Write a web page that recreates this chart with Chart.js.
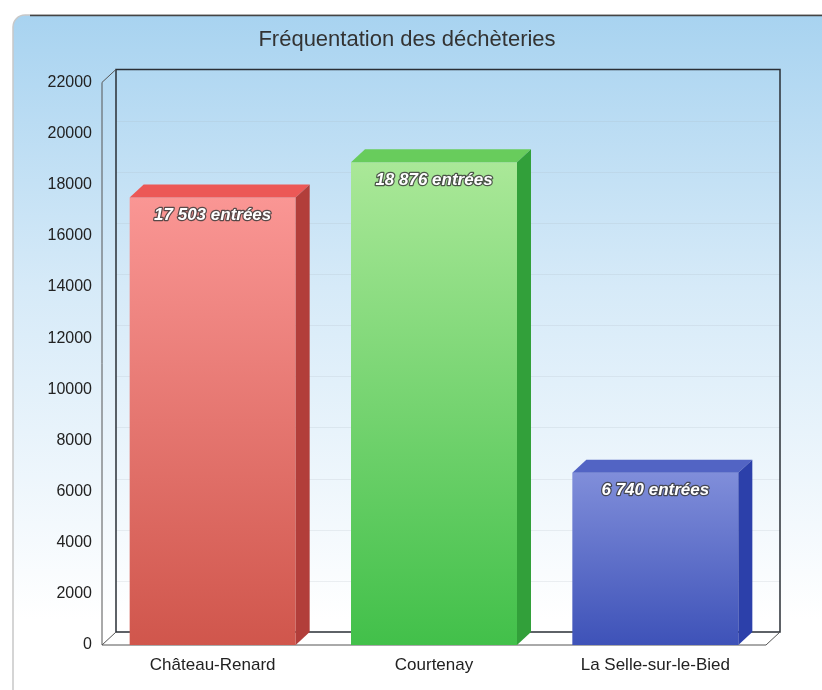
<!DOCTYPE html>
<html lang="fr">
<head>
  <meta charset="UTF-8">
  <title>Fréquentation des déchèteries</title>
  <script src="https://cdn.jsdelivr.net/npm/chart.js"></script>
  <style>
    html, body { margin: 0; padding: 0; background: #fff; }
    #wrap { width: 822px; height: 690px; }
  </style>
</head>
<body>
  <div id="wrap"><canvas id="chart" width="822" height="690"></canvas></div>
  <script>
    const sites = ['Château-Renard', 'Courtenay', 'La Selle-sur-le-Bied'];
    const entrees = [17503, 18876, 6740];
    const yTicks = [0, 2000, 4000, 6000, 8000, 10000, 12000, 14000, 16000, 18000, 20000, 22000];

    // front / top / side colours for each bar
    const frontTop = ['rgb(250,150,148)', 'rgb(170,232,152)', 'rgb(128,142,218)'];
    const frontBottom = ['rgb(208,86,76)', 'rgb(66,192,74)', 'rgb(62,82,184)'];
    const topFace = ['rgb(236,88,86)', 'rgb(104,204,92)', 'rgb(82,100,196)'];
    const sideFace = ['rgb(178,62,58)', 'rgb(50,160,58)', 'rgb(44,64,170)'];

    const DX = 14, DY = -13;
    const FONT = '"Liberation Sans", Arial, sans-serif';

    function fmt(v) {
      return String(v).replace(/\B(?=(\d{3})+(?!\d))/g, ' ') + ' entrées';
    }

    const scene3d = {
      id: 'scene3d',
      beforeDraw(chart) {
        const ctx = chart.ctx;
        const W = chart.width, H = chart.height;
        ctx.save();
        ctx.fillStyle = '#fff';
        ctx.fillRect(0, 0, W, H);
        const g = ctx.createLinearGradient(0, 15, 0, 620);
        g.addColorStop(0, 'rgb(168,211,240)');
        g.addColorStop(0.45, 'rgb(214,234,248)');
        g.addColorStop(1, 'rgb(255,255,255)');
        ctx.fillStyle = g;
        ctx.beginPath();
        ctx.roundRect(13, 15, W + 20, H + 20, 12);
        ctx.fill();
        ctx.lineWidth = 1.5;
        ctx.strokeStyle = '#c8c8c8';
        ctx.stroke();
        ctx.beginPath();
        ctx.moveTo(30, 15.5);
        ctx.lineTo(W, 15.5);
        ctx.strokeStyle = '#444';
        ctx.stroke();

        const a = chart.chartArea;
        const ys = chart.scales.y;
        // floor
        ctx.fillStyle = '#fff';
        ctx.beginPath();
        ctx.moveTo(a.left, a.bottom);
        ctx.lineTo(a.left + DX, a.bottom + DY);
        ctx.lineTo(a.right + DX, a.bottom + DY);
        ctx.lineTo(a.right, a.bottom);
        ctx.closePath();
        ctx.fill();
        // back wall grid lines
        ctx.lineWidth = 1;
        ctx.strokeStyle = 'rgba(170,180,190,0.2)';
        yTicks.forEach(t => {
          if (t === 0 || t === 22000) return;
          const y = Math.round(ys.getPixelForValue(t) + DY) + 0.5;
          ctx.beginPath();
          ctx.moveTo(a.left + DX, y);
          ctx.lineTo(a.right + DX, y);
          ctx.stroke();
        });
        // frame
        ctx.strokeStyle = '#2a2f36';
        ctx.lineWidth = 1.5;
        ctx.beginPath();
        ctx.moveTo(a.left + DX, a.bottom + DY);
        ctx.lineTo(a.left + DX, a.top + DY);
        ctx.lineTo(a.right + DX, a.top + DY);
        ctx.lineTo(a.right + DX, a.bottom + DY);
        ctx.lineTo(a.left + DX, a.bottom + DY);
        ctx.stroke();
        ctx.strokeStyle = '#555';
        ctx.lineWidth = 1;
        ctx.beginPath();
        ctx.moveTo(a.left + DX, a.top + DY);
        ctx.lineTo(a.left, a.top);
        ctx.lineTo(a.left, a.bottom);
        ctx.lineTo(a.left + DX, a.bottom + DY);
        ctx.moveTo(a.left, a.bottom);
        ctx.lineTo(a.right, a.bottom);
        ctx.lineTo(a.right + DX, a.bottom + DY);
        ctx.stroke();
        ctx.restore();
      },
      afterDatasetsDraw(chart) {
        const ctx = chart.ctx;
        const meta = chart.getDatasetMeta(0);
        ctx.save();
        meta.data.forEach((bar, i) => {
          const p = bar.getProps(['x', 'y', 'width', 'base'], true);
          const l = p.x - p.width / 2, r = p.x + p.width / 2;
          ctx.fillStyle = topFace[i];
          ctx.beginPath();
          ctx.moveTo(l, p.y);
          ctx.lineTo(l + DX, p.y + DY);
          ctx.lineTo(r + DX, p.y + DY);
          ctx.lineTo(r, p.y);
          ctx.closePath();
          ctx.fill();
          ctx.fillStyle = sideFace[i];
          ctx.beginPath();
          ctx.moveTo(r, p.y);
          ctx.lineTo(r + DX, p.y + DY);
          ctx.lineTo(r + DX, p.base + DY);
          ctx.lineTo(r, p.base);
          ctx.closePath();
          ctx.fill();

          ctx.font = 'italic bold 17px ' + FONT;
          ctx.textAlign = 'center';
          ctx.textBaseline = 'middle';
          ctx.lineWidth = 2.5;
          ctx.lineJoin = 'round';
          ctx.strokeStyle = 'rgba(60,60,60,0.85)';
          ctx.strokeText(fmt(entrees[i]), p.x, p.y + 18);
          ctx.fillStyle = '#fff';
          ctx.fillText(fmt(entrees[i]), p.x, p.y + 18);
        });
        ctx.restore();
      }
    };

    new Chart(document.getElementById('chart'), {
      type: 'bar',
      data: {
        labels: sites,
        datasets: [{
          data: entrees,
          barPercentage: 0.75,
          categoryPercentage: 1,
          borderWidth: 0,
          backgroundColor: (c) => {
            const chart = c.chart;
            const a = chart.chartArea;
            if (!a) return frontBottom[c.dataIndex];
            const g = chart.ctx.createLinearGradient(0, chart.scales.y.getPixelForValue(entrees[c.dataIndex]), 0, a.bottom);
            g.addColorStop(0, frontTop[c.dataIndex]);
            g.addColorStop(1, frontBottom[c.dataIndex]);
            return g;
          }
        }]
      },
      options: {
        responsive: false,
        animation: false,
        layout: { padding: { left: 0, right: 8, top: 0, bottom: 0 } },
        plugins: {
          legend: { display: false },
          tooltip: { enabled: false },
          title: {
            display: true,
            text: 'Fréquentation des déchèteries',
            color: '#333',
            font: { family: FONT, size: 22, weight: 'normal' },
            padding: { top: 27, bottom: 29 }
          }
        },
        scales: {
          x: {
            grid: { display: false, drawTicks: false },
            border: { display: false },
            ticks: {
              color: '#222',
              padding: 10,
              font: { family: FONT, size: 17 }
            },
            afterFit: (s) => { s.height = 45; }
          },
          y: {
            min: 0,
            max: 22000,
            afterBuildTicks: (s) => { s.ticks = yTicks.map(v => ({ value: v })); },
            grid: { display: false, drawTicks: false },
            border: { display: false },
            ticks: {
              color: '#222',
              padding: 10,
              font: { family: FONT, size: 16 },
              callback: (v) => String(v)
            },
            afterFit: (s) => { s.width = 102; }
          },
          // empty right-hand axis, only reserves room for the 3D depth
          yRight: {
            position: 'right',
            min: 0,
            max: 22000,
            grid: { display: false, drawTicks: false },
            border: { display: false },
            ticks: { display: false },
            afterFit: (s) => { s.width = 48; }
          }
        }
      },
      plugins: [scene3d]
    });
  </script>
</body>
</html>
